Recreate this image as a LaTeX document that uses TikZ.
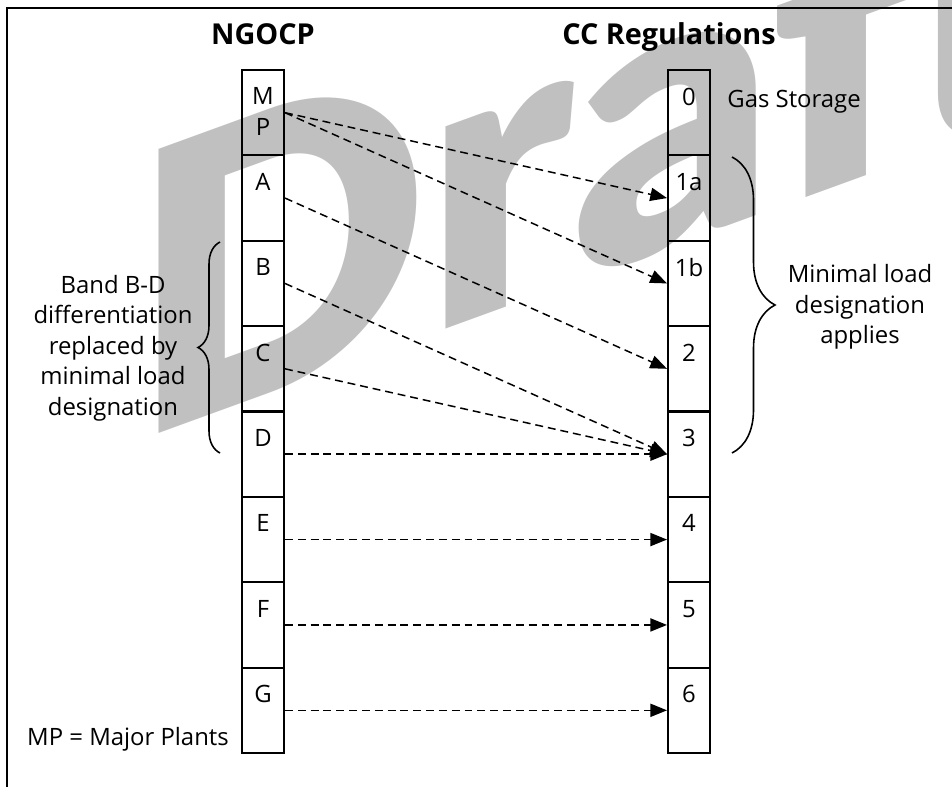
\documentclass[tikz,border=0pt]{standalone}
\usepackage{fontspec}
\setmainfont{Open Sans}
\newfontfamily\draftfont{Lato Black}
\usetikzlibrary{arrows.meta, decorations.pathreplacing}
\definecolor{draftgray}{RGB}{192,192,192}
\newcommand\bandfont{\fontsize{13.6}{17.4}\selectfont}
\newcommand\colheadfont{\bfseries\fontsize{16.4}{19}\selectfont}
\tikzset{
    % Band cells of both columns - plain boxes, no fill
    band cell/.style={rectangle, draw, line width=1.15pt, minimum width=0.84cm, minimum height=1.7075cm, inner sep=0pt},
    % Band names - set near the top of each cell
    band name/.style={anchor=north, align=center, inner sep=0pt, yshift=-0.37cm, font=\bandfont},
    % Mapping between bands - black dashed arrows
    map arrow/.style={dash pattern=on 4.5pt off 2.8pt, line width=0.85pt, -{Triangle[length=9.5pt, width=7.5pt]}},
    % Column titles
    column title/.style={anchor=base, inner sep=0pt, font=\colheadfont},
    % Side notes
    side note/.style={align=center, inner sep=0pt, font=\bandfont},
    % Curly braces beside the columns
    side brace/.style={decorate, decoration={brace, amplitude=#1}, line width=0.9pt},
    % Watermark behind everything
    draft mark/.style={anchor=base west, inner sep=0pt, text=draftgray, font=\draftfont\fontsize{222}{222}\selectfont, transform shape}
}

\begin{document}
\begin{tikzpicture}[x=0.02cm, y=-0.02cm]
    \useasboundingbox (0,0) rectangle (952,787);

    % --- Watermark ---
    \begin{scope}
        \clip (0,0) rectangle (952,787);
        \begin{scope}[shift={(131,443.6)}, yslant=0.364]
            \node[draft mark] (draft) at (0,0) {Draft};
        \end{scope}
    \end{scope}

    % --- Frame ---
    \draw[line width=1.15pt] (7,787) -- (7,8) -- (952,8);

    % --- Titles ---
    \node[column title] (ngocp) at (263,45) {NGOCP};
    \node[column title] (ccreg) at (669,45) {CC Regulations};

    % --- Band columns ---
    % NGOCP bands (left)
    \foreach \band [count=\i] in {{M\\P},A,B,C,D,E,F,G}
        \node[band cell, label={[band name]north:\band}] (L\i) at (263,27.3125+85.375*\i) {};
    % CC Regulations bands (right)
    \foreach \band [count=\i] in {0,1a,1b,2,3,4,5,6}
        \node[band cell, label={[band name]north:\band}] (R\i) at (689,27.3125+85.375*\i) {};

    % --- Mapping arrows ---
    \draw[map arrow] (L1.east) -- (R2.west);
    \draw[map arrow] (L1.east) -- (R3.west);
    \foreach \from/\to in {2/4,3/5,4/5,5/5,6/6,7/7,8/8}
        \draw[map arrow] (L\from.east) -- (R\to.west);

    % --- Braces and notes ---
    \draw[side brace=0.44cm] (220,453) -- (220,242);
    \draw[side brace=0.86cm] (732,157) -- (732,453);

    \node[side note] (bandnote) at (113,348)
        {Band B-D\\differentiation\\replaced by\\minimal load\\designation};
    \node[side note] (minnote) at (860,307)
        {Minimal load\\designation\\applies};
    \node[anchor=base west, inner sep=0pt, font=\bandfont] (gas) at (727,107.5) {Gas Storage};
    \node[anchor=base, inner sep=0pt, font=\bandfont] (mpkey) at (128,745.5) {MP = Major Plants};

\end{tikzpicture}
\end{document}
